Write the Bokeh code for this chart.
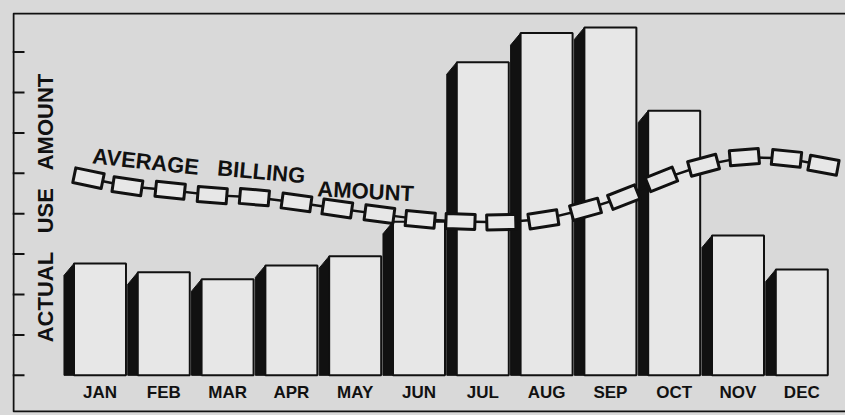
import math
from bokeh.plotting import figure
from bokeh.models import Range1d
from bokeh.core.properties import value
from bokeh.embed import file_html
from bokeh.resources import INLINE

# ---- data ----
months = ["JAN", "FEB", "MAR", "APR", "MAY", "JUN", "JUL", "AUG", "SEP", "OCT", "NOV", "DEC"]
actual_use = [2.77, 2.55, 2.38, 2.72, 2.95, 3.80, 7.75, 8.47, 8.61, 6.55, 3.46, 2.62]
# average billing amount chain (position in month units, value)
avg_x = [-0.18, 0.43, 1.10, 1.76, 2.42, 3.08, 3.72, 4.38, 5.02, 5.65, 6.29, 6.95,
         7.61, 8.21, 8.80, 9.46, 10.10, 10.76, 11.34]
avg_y = [4.88, 4.68, 4.58, 4.46, 4.41, 4.28, 4.13, 3.99, 3.86, 3.81, 3.79, 3.86,
         4.11, 4.41, 4.85, 5.20, 5.40, 5.37, 5.20]
y_ticks = [0, 1, 2, 3, 4, 5, 6, 7, 8]

BG = "#d9d9d9"
FACE = "#e7e7e7"
INK = "#111111"
FONT = "Liberation Sans"

W, H = 845, 415
BL, BR, BT, BB = 12, 0, 12, 3
x0, x1 = -1.371, 11.685
y0, y1 = -0.92, 8.98

p = figure(width=W, height=H, output_backend="svg", toolbar_location=None,
           x_axis_location=None, y_axis_location=None,
           x_range=Range1d(x0, x1), y_range=Range1d(y0, y1))
p.min_border_left = BL
p.min_border_right = BR
p.min_border_top = BT
p.min_border_bottom = BB
p.background_fill_color = BG
p.border_fill_color = BG
p.outline_line_color = None
p.grid.grid_line_color = None

frame_w = W - BL - BR
frame_h = H - BT - BB
sx = frame_w / (x1 - x0)
sy = frame_h / (y1 - y0)

# frame border on left, top and bottom (right side is cut off in the original)
bx = x0 + 1 / sx
p.line(x=[x1, bx, bx, x1], y=[y1 - 1 / sy, y1 - 1 / sy, y0 + 1 / sy, y0 + 1 / sy],
       line_color=INK, line_width=2)

# tick marks on the left edge (pointing inwards)
tick_len = 12 / sx
p.segment(x0=[x0] * len(y_ticks), y0=y_ticks, x1=[x0 + tick_len] * len(y_ticks), y1=y_ticks,
          line_color=INK, line_width=2)

# bars: black side (depth to the left) + light face
bar_w = 0.815
side_w = 10 / sx
slant = 12 / sy
xs, ys = [], []
for i, v in enumerate(actual_use):
    xr = i - bar_w / 2
    xl = xr - side_w
    xs.append([xl, xl, xr, xr])
    ys.append([0, v - slant, v, 0])
p.patches(xs, ys, fill_color=INK, line_color=INK, line_width=1)
p.vbar(x=list(range(len(months))), top=actual_use, bottom=0, width=bar_w,
       fill_color=FACE, line_color=INK, line_width=2)

# month labels
p.text(x=list(range(len(months))), y=[-17.5 / sy] * len(months), text=months,
       text_font=value(FONT), text_font_style="bold", text_font_size="17px",
       text_align="center", text_baseline="middle", text_color=INK)

# average billing chain
angles = []
n = len(avg_x)
for i in range(n):
    a = max(i - 1, 0)
    b = min(i + 1, n - 1)
    angles.append(math.atan2((avg_y[b] - avg_y[a]) * sy, (avg_x[b] - avg_x[a]) * sx))
p.line(avg_x, avg_y, line_color=INK, line_width=2.5)
p.rect(x=avg_x, y=avg_y, width=29, height=15, angle=angles,
       width_units="screen", height_units="screen",
       fill_color=FACE, line_color=INK, line_width=3, line_join="round")

# chain label
lab_words = ["AVERAGE", "BILLING", "AMOUNT"]
lab_x = [(92 - 99.5) / sx, (217 - 99.5) / sx, (317 - 99.5) / sx]
lab_y = [(375 - 155.5) / sy, (375 - 167.5) / sy, (375 - 188.5) / sy]
lab_a = [math.radians(-6.2), math.radians(-5.2), math.radians(-2.9)]
p.text(x=lab_x, y=lab_y, text=lab_words, angle=lab_a,
       text_font=value(FONT), text_font_style="bold", text_font_size="22px",
       text_align="left", text_baseline="middle", text_color=INK)

# vertical axis title (inside the frame)
yt_words = ["ACTUAL", "USE", "AMOUNT"]
yt_x = [(45 - 99.5) / sx] * 3
yt_y = [(375 - 342) / sy, (375 - 233) / sy, (375 - 170) / sy]
p.text(x=yt_x, y=yt_y, text=yt_words, angle=math.pi / 2,
       text_font=value(FONT), text_font_style="bold", text_font_size="22px",
       text_align="left", text_baseline="middle", text_color=INK)

html = file_html(p, INLINE)
html = html.replace("</head>",
                    "<style>html,body{background:%s !important;margin:0 !important;padding:0 !important;}</style></head>" % BG, 1)
open("out.html", "w").write(html)
